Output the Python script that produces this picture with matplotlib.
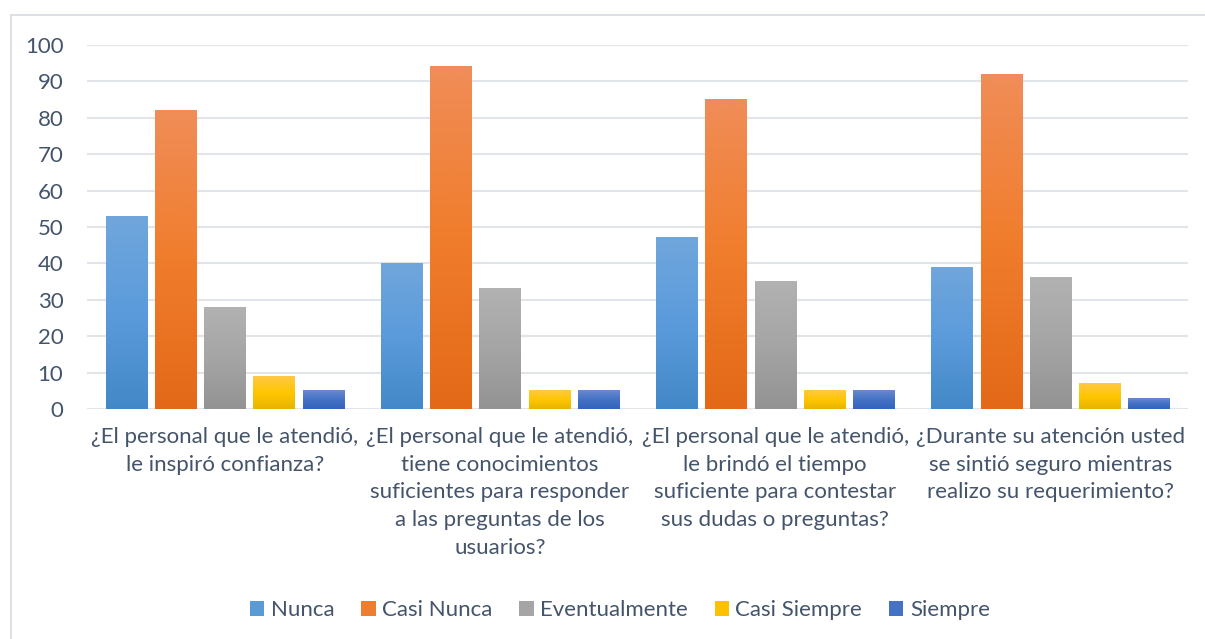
import numpy as np
import matplotlib
matplotlib.use("Agg")
import matplotlib.pyplot as plt
from matplotlib.colors import LinearSegmentedColormap
from matplotlib.patches import Patch

categories = [
    "¿El personal que le atendió,\nle inspiró confianza?",
    "¿El personal que le atendió,\ntiene conocimientos\nsuficientes para responder\na las preguntas de los\nusuarios?",
    "¿El personal que le atendió,\nle brindó el tiempo\nsuficiente para contestar\nsus dudas o preguntas?",
    "¿Durante su atención usted\nse sintió seguro mientras\nrealizo su requerimiento?",
]
series_names = ["Nunca", "Casi Nunca", "Eventualmente", "Casi Siempre", "Siempre"]
nunca = [53, 40, 47, 39]
casi_nunca = [82, 94, 85, 92]
eventualmente = [28, 33, 35, 36]
casi_siempre = [9, 5, 5, 7]
siempre = [5, 5, 5, 3]
series_values = [nunca, casi_nunca, eventualmente, casi_siempre, siempre]
yticks = list(range(0, 101, 10))

# gradient stops (bottom, mid, top)
grads = [
    ["#4388C8", "#5B9BDB", "#70A6DC"],
    ["#E36918", "#F07D2C", "#F08D58"],
    ["#939393", "#A5A5A5", "#B2B2B2"],
    ["#E8B400", "#FFC600", "#FFC846"],
    ["#3264BD", "#4472C4", "#6A8AD1"],
]
solid = ["#5B9BD5", "#ED7D31", "#A5A5A5", "#FFC000", "#4472C4"]

plt.rcParams['font.family'] = ['Lato', 'DejaVu Sans']
txt_color = "#44546A"
grid_color = "#E1E4E8"
fs = 16

fig = plt.figure(figsize=(12.05, 6.39), dpi=100)
ax = fig.add_axes([87/1205, 1-409/639, (1188-87)/1205, (409-45)/639])

# chart border (left and top visible)
fig.add_artist(plt.Line2D([11/1205, 11/1205], [0, 1-15/639], color="#DDE1E7", lw=1.5, transform=fig.transFigure))
fig.add_artist(plt.Line2D([11/1205, 1], [1-15/639, 1-15/639], color="#DDE1E7", lw=1.5, transform=fig.transFigure))

n = len(series_names)
step = 0.179
width = 0.149
x = np.arange(len(categories))
grad_img = np.linspace(1, 0, 256).reshape(-1, 1)
for i, (vals, g) in enumerate(zip(series_values, grads)):
    cmap = LinearSegmentedColormap.from_list(f"g{i}", g)
    offs = (i - (n - 1) / 2) * step
    bars = ax.bar(x + offs, vals, width=width, color=solid[i], zorder=2, linewidth=0)
    for b in bars:
        x0 = b.get_x(); w = b.get_width(); h = b.get_height()
        ax.imshow(grad_img, extent=[x0, x0 + w, 0, h], aspect='auto', cmap=cmap,
                  vmin=0, vmax=1, zorder=3, origin='upper', interpolation='bilinear')

ax.set_xlim(-0.5, len(categories) - 0.5)
ax.set_ylim(0, 100)
ax.set_yticks(yticks)
ax.set_yticklabels([str(t) for t in yticks], fontsize=fs, color=txt_color)
ax.set_xticks(x)
ax.set_xticklabels(categories, fontsize=fs, color=txt_color, linespacing=1.48)
ax.tick_params(axis='both', length=0)
ax.tick_params(axis='y', pad=17)
ax.tick_params(axis='x', pad=13)
ax.grid(axis='y', color=grid_color, lw=1.5, zorder=0)
for s in ax.spines.values():
    s.set_visible(False)
ax.set_axisbelow(True)

handles = [Patch(facecolor=c, edgecolor='none') for c in solid]
fig.legend(handles, series_names, loc='center', bbox_to_anchor=(620/1205, 1-610/639), ncol=5,
           frameon=False, fontsize=fs, labelcolor=txt_color, handlelength=0.64, handleheight=0.64,
           handletextpad=0.3, columnspacing=1.2)

fig.savefig("out.png", dpi=100, facecolor="white")
